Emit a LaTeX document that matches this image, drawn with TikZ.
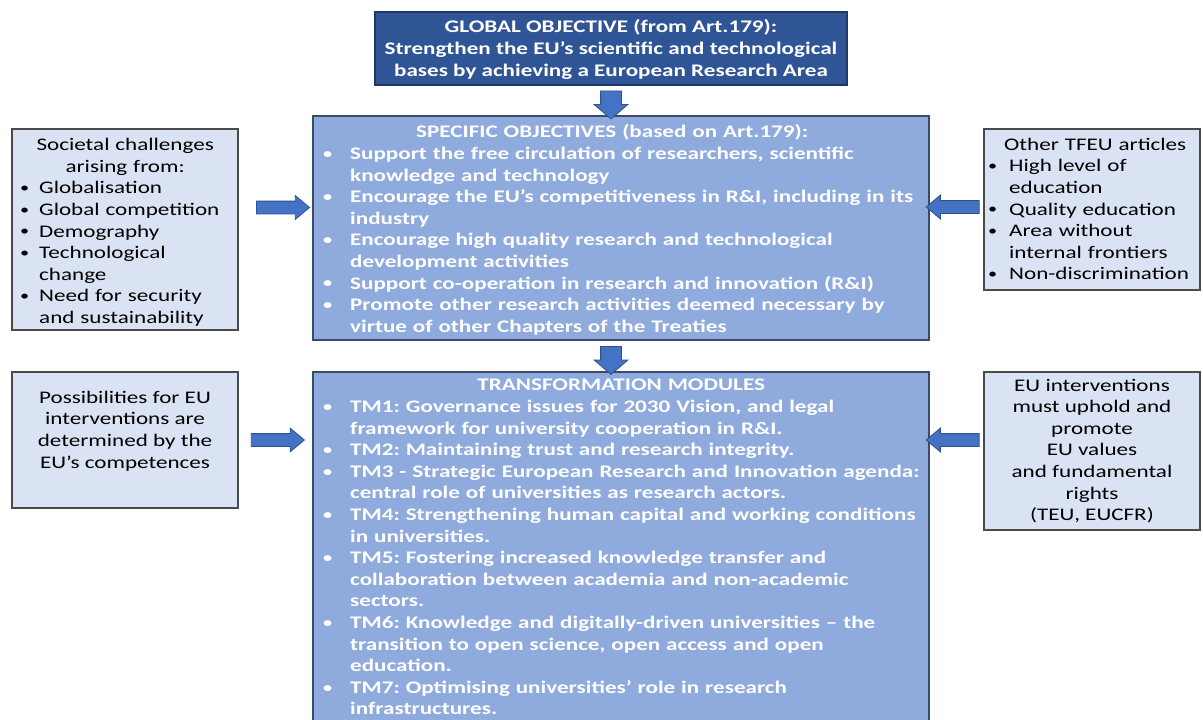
\documentclass[tikz,border=0pt]{standalone}
\usepackage{fontspec}
\setmainfont{Carlito}[FakeStretch=1.305]
\usetikzlibrary{shapes.arrows,calc}
\frenchspacing
\definecolor{dkblue}{HTML}{2F5597}
\definecolor{dkedge}{HTML}{1F3864}
\definecolor{midblue}{HTML}{8FAADC}
\definecolor{midedge}{HTML}{3A4A6A}
\definecolor{ltblue}{HTML}{DAE3F3}
\definecolor{ltedge}{HTML}{4A4A4A}
\definecolor{arrowblue}{HTML}{4472C4}
\definecolor{arrowedge}{HTML}{2F528F}
\newcommand\smbullet{\raisebox{1.2pt}{\fontsize{14}{14}\selectfont\textbullet}}
\newcommand\bitm[3]{\par\noindent\hangindent=#2\hangafter=1\makebox[#2][l]{\hspace{#1}\smbullet}\strut#3\strut\par}
\newcommand\ttl[2]{\par\noindent\makebox[#1]{\strut#2}\par}
\tikzset{
  fs/.style={font=\fontsize{17.7}{21.6}\selectfont\frenchspacing},
  gbox/.style={draw=dkedge,fill=dkblue,line width=1.2pt,inner sep=0},
  mbox/.style={draw=midedge,fill=midblue,line width=1.2pt,inner sep=0},
  lbox/.style={draw=ltedge,fill=ltblue,line width=1.2pt,inner sep=0},
  wtext/.style={text=white,inner sep=0,font=\fontsize{17.7}{21.6}\selectfont\bfseries\frenchspacing},
  btext/.style={fs,text=black,inner sep=0},
  barrow/.style={single arrow,draw=arrowedge,fill=arrowblue,line width=0.8pt,anchor=center},
  darrow/.style={barrow,inner xsep=10pt,inner ysep=0pt,single arrow head extend=6.5pt,
    single arrow tip angle=99,minimum height=28pt,shape border rotate=270},
  harrow/.style={barrow,inner xsep=0pt,inner ysep=6pt,single arrow head extend=5.5pt,
    single arrow tip angle=80,minimum height=53pt}
}
\begin{document}
\begin{tikzpicture}[x=1pt,y=-1pt]
\useasboundingbox (0,0) rectangle (1203,720);
\clip (0,0) rectangle (1203,720);
\fill[white] (0,0) rectangle (1203,720);
% boxes
\node[gbox,minimum width=472pt,minimum height=73pt] (g) at (611,48.5) {};
\node[mbox,minimum width=616pt,minimum height=224pt] (s) at (621,228) {};
\node[mbox,minimum width=616pt,minimum height=400pt] (t) at (621,572) {};
\node[lbox,minimum width=226pt,minimum height=201pt] (l1) at (125,229.5) {};
\node[lbox,minimum width=216pt,minimum height=161pt] (r1) at (1092,209.5) {};
\node[lbox,minimum width=226pt,minimum height=136pt] (l2) at (125,440) {};
\node[lbox,minimum width=216pt,minimum height=158pt] (r2) at (1092,451) {};
% texts
\node[wtext,align=center] (gt) at (611,49.5) {GLOBAL OBJECTIVE (from Art.179):\\Strengthen the EU’s scientific and technological\\bases by achieving a European Research Area};
\node[wtext,text width=610pt,anchor=west] (st) at (323,227.5) {%
\ttl{578pt}{SPECIFIC OBJECTIVES (based on Art.179):}%
\bitm{0pt}{27pt}{Support the free circulation of researchers, scientific\newline knowledge and technology}%
\bitm{0pt}{27pt}{Encourage the EU’s competitiveness in R\&I, including in its\newline industry}%
\bitm{0pt}{27pt}{Encourage high quality research and technological\newline development activities}%
\bitm{0pt}{27pt}{Support co-operation in research and innovation (R\&I)}%
\bitm{0pt}{27pt}{Promote other research activities deemed necessary by\newline virtue of other Chapters of the Treaties}};
\node[wtext,text width=610pt,anchor=north west] (tt) at (323,369) {%
\ttl{596pt}{TRANSFORMATION MODULES}%
\bitm{0pt}{27pt}{TM1: Governance issues for 2030 Vision, and legal\newline framework for university cooperation in R\&I.}%
\bitm{0pt}{27pt}{TM2: Maintaining trust and research integrity.}%
\bitm{0pt}{27pt}{TM3 - Strategic European Research and Innovation agenda:\newline central role of universities as research actors.}%
\bitm{0pt}{27pt}{TM4: Strengthening human capital and working conditions\newline in universities.}%
\bitm{0pt}{27pt}{TM5: Fostering increased knowledge transfer and\newline collaboration between academia and non-academic\newline sectors.}%
\bitm{0pt}{27pt}{TM6: Knowledge and digitally-driven universities – the\newline transition to open science, open access and open\newline education.}%
\bitm{0pt}{27pt}{TM7: Optimising universities’ role in research\newline infrastructures.}};
\node[btext,text width=217pt,anchor=west] (l1t) at (20,229.5) {%
\ttl{210pt}{Societal challenges}%
\ttl{210pt}{arising from:}%
\bitm{0pt}{19pt}{Globalisation}%
\bitm{0pt}{19pt}{Global competition}%
\bitm{0pt}{19pt}{Demography}%
\bitm{0pt}{19pt}{Technological\newline change}%
\bitm{0pt}{19pt}{Need for security\newline and sustainability}};
\node[btext,text width=214pt,anchor=west] (r1t) at (988,207.5) {%
\ttl{214pt}{Other TFEU articles}%
\bitm{0pt}{21pt}{High level of\newline education}%
\bitm{0pt}{21pt}{Quality education}%
\bitm{0pt}{21pt}{Area without\newline internal frontiers}%
\bitm{0pt}{21pt}{Non-discrimination}};
\node[btext,align=center] (l2t) at (125,431) {Possibilities for EU\\interventions are\\determined by the\\EU’s competences};
\node[btext,align=center] (r2t) at (1092,451) {EU interventions\\must uphold and\\promote\\EU values\\and fundamental\\rights\\(TEU, EUCFR)};
% block arrows
\node[darrow] (a1) at ($(g.south)!0.5!(g.south |- s.north)$) {};
\node[darrow] (a2) at ($(s.south -| g.south)!0.5!(t.north -| g.south)$) {};
\node[harrow] (a3) at ($(l1.east)!0.55!(l1.east -| s.west)+(0,-22)$) {};
\node[harrow,shape border rotate=180] (a4) at ($(r1.west)!0.5!(r1.west -| s.east)+(0,-2.5)$) {};
\node[harrow] (a5) at ($(l2.east)!0.48!(l2.east -| t.west)$) {};
\node[harrow,shape border rotate=180] (a6) at ($(r2.west)!0.5!(r2.west -| t.east)+(0,-11)$) {};
\end{tikzpicture}
\end{document}
